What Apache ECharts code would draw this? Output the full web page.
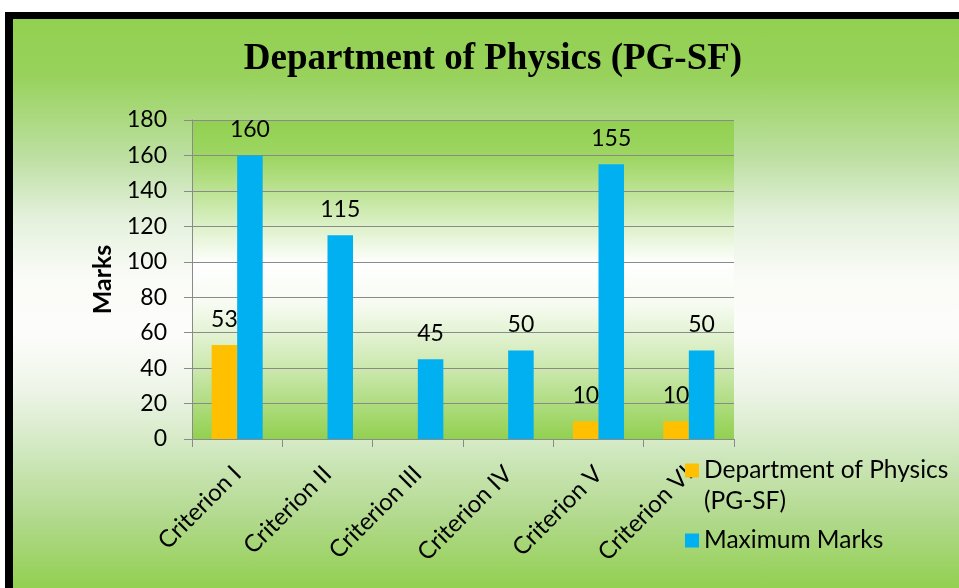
<!DOCTYPE html>
<html>
<head>
<meta charset="utf-8">
<script src="https://cdn.jsdelivr.net/npm/echarts@6/dist/echarts.min.js"></script>
<style>
html,body{margin:0;padding:0;width:959px;height:588px;overflow:hidden;background:#fff;}
#frame{position:absolute;left:5px;top:12px;width:1000px;height:569px;border-left:8px solid #000;border-top:7px solid #000;
background:linear-gradient(to bottom,#92d050 0%,#98d25c 10%,#bfe0a6 25%,#e4f1dc 35%,#f9fbf6 45%,#fdfdfb 55%,#eef5e8 65%,#d3e9c3 75%,#b1d98c 88%,#92d050 100%);}
#chart{position:absolute;left:0;top:0;width:959px;height:588px;}
</style>
</head>
<body>
<div id="frame"></div>
<div id="chart"></div>
<script>
const categories = ['Criterion I','Criterion II','Criterion III','Criterion IV','Criterion V','Criterion VI'];
const deptValues = [53, null, null, null, 10, 10];
const maxValues = [160, 115, 45, 50, 155, 50];
const yTicks = {min: 0, max: 180, interval: 20};
const seriesNames = ['Department of Physics (PG-SF)', 'Maximum Marks'];
const legendLabels = {'Department of Physics (PG-SF)': '\nDepartment of Physics\n(PG-SF)', 'Maximum Marks': 'Maximum Marks'};

const FONT = 'Lato';
const chart = echarts.init(document.getElementById('chart'), null, {renderer: 'canvas'});
const labelStyle = {show: true, position: 'top', distance: 14, color: '#000', fontFamily: FONT, fontSize: 23,
  formatter: p => (p.value == null ? '' : p.value)};
chart.setOption({
  backgroundColor: 'transparent',
  animation: false,
  title: {
    text: 'Department of Physics (PG-SF)',
    left: 488, top: 36, textAlign: 'center',
    textStyle: {fontFamily: 'Liberation Serif', fontWeight: 'bold', fontSize: 37, color: '#000'}
  },
  grid: {
    left: 192, top: 120, width: 542, height: 319,
    show: true, borderWidth: 0,
    backgroundColor: {type: 'linear', x: 0, y: 0, x2: 0, y2: 1, colorStops: [
      {offset: 0, color: '#92d050'}, {offset: 0.12, color: '#9ed663'}, {offset: 0.45, color: '#ffffff'},
      {offset: 0.58, color: '#f6fbf1'}, {offset: 0.8, color: '#c6e6a6'}, {offset: 1, color: '#92d050'}]}
  },
  legend: [{
    data: [seriesNames[0]], orient: 'vertical', left: 685, top: 424, padding: 0,
    itemWidth: 14, itemHeight: 14, icon: 'rect',
    formatter: n => legendLabels[n],
    textStyle: {fontFamily: FONT, fontSize: 24.5, color: '#000', lineHeight: 31}
  }, {
    data: [seriesNames[1]], orient: 'vertical', left: 685, top: 525, padding: 0,
    itemWidth: 14, itemHeight: 14, icon: 'rect',
    formatter: n => legendLabels[n],
    textStyle: {fontFamily: FONT, fontSize: 24.5, color: '#000', lineHeight: 31}
  }],
  xAxis: {
    type: 'category', data: categories,
    axisLine: {lineStyle: {color: '#8a8a8a', width: 1}},
    axisTick: {show: true, length: 8, lineStyle: {color: '#8a8a8a'}},
    axisLabel: {rotate: 45, margin: 31, color: '#000', fontFamily: FONT, fontSize: 24, interval: 0}
  },
  yAxis: {
    type: 'value', min: yTicks.min, max: yTicks.max, interval: yTicks.interval,
    name: 'Marks', nameLocation: 'middle', nameGap: 77,
    nameTextStyle: {fontFamily: FONT, fontWeight: 'bold', fontSize: 25, color: '#000'},
    axisLine: {show: true, lineStyle: {color: '#8a8a8a', width: 1}},
    axisTick: {show: true, length: 8, lineStyle: {color: '#8a8a8a'}},
    axisLabel: {margin: 25, color: '#000', fontFamily: FONT, fontSize: 23},
    splitLine: {show: true, lineStyle: {color: '#8a8a8a', width: 1}}
  },
  series: [{
    name: seriesNames[0], type: 'bar', data: deptValues,
    itemStyle: {color: '#ffc000'}, barGap: '0%', barCategoryGap: '43.5%',
    label: labelStyle
  }, {
    name: seriesNames[1], type: 'bar', data: maxValues,
    itemStyle: {color: '#00b0f0'}, barGap: '0%', barCategoryGap: '43.5%',
    label: labelStyle
  }]
});
</script>
</body>
</html>
